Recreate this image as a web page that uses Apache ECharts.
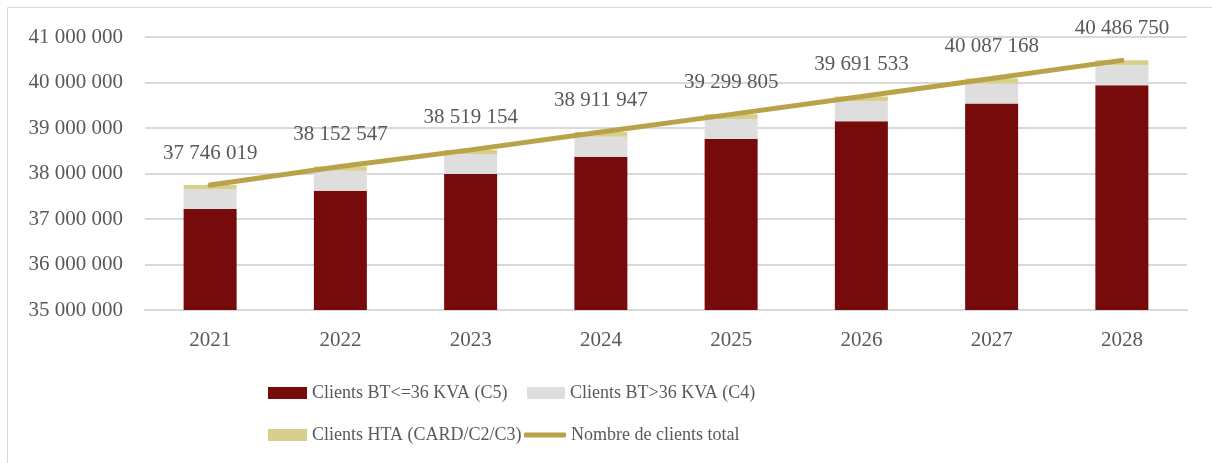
<!DOCTYPE html>
<html>
<head>
<meta charset="utf-8">
<script src="https://cdn.jsdelivr.net/npm/echarts@6/dist/echarts.min.js"></script>
<style>
  html, body { margin: 0; padding: 0; background: #fff; }
  #main { width: 1212px; height: 463px; }
</style>
</head>
<body>
<div id="main"></div>
<script>
var years = ['2021', '2022', '2023', '2024', '2025', '2026', '2027', '2028'];
// Clients BT<=36 KVA (C5)
var btSmall = [37220000, 37620000, 37990000, 38370000, 38760000, 39150000, 39540000, 39940000];
// Clients BT>36 KVA (C4)
var btLarge = [440000, 440000, 440000, 440000, 440000, 440000, 440000, 440000];
// Clients HTA (CARD/C2/C3)
var hta = [86000, 92000, 89000, 102000, 100000, 101000, 107000, 107000];
// Nombre de clients total
var total = [37746019, 38152547, 38519154, 38911947, 39299805, 39691533, 40087168, 40486750];

var font = 'Liberation Serif';
var grey = '#595959';
var gold = '#b9a24a';

function fmt(v) {
    return String(v).replace(/\B(?=(\d{3})+(?!\d))/g, ' ');
}

var legendText = { fontFamily: font, fontSize: 18, color: grey };

var myChart = echarts.init(document.getElementById('main'));
var opt = {
    animation: false,
    textStyle: { fontFamily: font },
    // cadre autour du graphique
    graphic: [{
        type: 'rect',
        shape: { x: 7.5, y: 7.5, width: 1300, height: 600 },
        style: { fill: 'none', stroke: '#d9d9d9', lineWidth: 1 },
        silent: true
    }],
    grid: { left: 145, right: 25, top: 37, bottom: 153 },
    legend: [{
        orient: 'vertical',
        left: 268, top: 384,
        padding: 0,
        icon: 'rect',
        itemWidth: 39, itemHeight: 12, itemGap: 24,
        textStyle: legendText,
        data: ['Clients BT<=36 KVA (C5)', 'Clients HTA (CARD/C2/C3)']
    }, {
        left: 527, top: 384,
        padding: 0,
        icon: 'rect',
        itemWidth: 38, itemHeight: 12,
        textStyle: legendText,
        data: ['Clients BT>36 KVA (C4)']
    }, {
        left: 524, top: 426,
        padding: 0,
        icon: 'roundRect',
        itemWidth: 42, itemHeight: 5,
        itemStyle: { color: gold },
        textStyle: legendText,
        data: ['Nombre de clients total']
    }],
    xAxis: {
        type: 'category',
        data: years,
        axisLine: { lineStyle: { color: '#d9d9d9', width: 2 } },
        axisTick: { show: false },
        axisLabel: { fontFamily: font, fontSize: 21, color: grey, margin: 20 }
    },
    yAxis: {
        type: 'value',
        min: 35000000,
        max: 41000000,
        interval: 1000000,
        axisLine: { show: false },
        axisTick: { show: false },
        splitLine: { lineStyle: { color: '#d9d9d9', width: 2 } },
        axisLabel: { fontFamily: font, fontSize: 21, color: grey, margin: 22, formatter: fmt }
    },
    series: [
        {
            name: 'Clients BT<=36 KVA (C5)',
            type: 'bar', stack: 'c', barWidth: 53,
            itemStyle: { color: '#770a0a' },
            data: btSmall
        },
        {
            name: 'Clients BT>36 KVA (C4)',
            type: 'bar', stack: 'c', barWidth: 53,
            itemStyle: { color: '#dedede' },
            data: btLarge
        },
        {
            name: 'Clients HTA (CARD/C2/C3)',
            type: 'bar', stack: 'c', barWidth: 53,
            itemStyle: { color: '#d6d08a' },
            data: hta
        },
        {
            name: 'Nombre de clients total',
            type: 'line',
            symbol: 'circle',
            symbolSize: 1,
            showSymbol: true,
            lineStyle: { color: gold, width: 5, cap: 'round' },
            itemStyle: { color: gold },
            label: {
                show: true, position: 'top', distance: 21,
                fontFamily: font, fontSize: 21, color: grey,
                formatter: function (p) { return fmt(p.value); }
            },
            data: total
        }
    ]
};
myChart.setOption(opt);
</script>
</body>
</html>
